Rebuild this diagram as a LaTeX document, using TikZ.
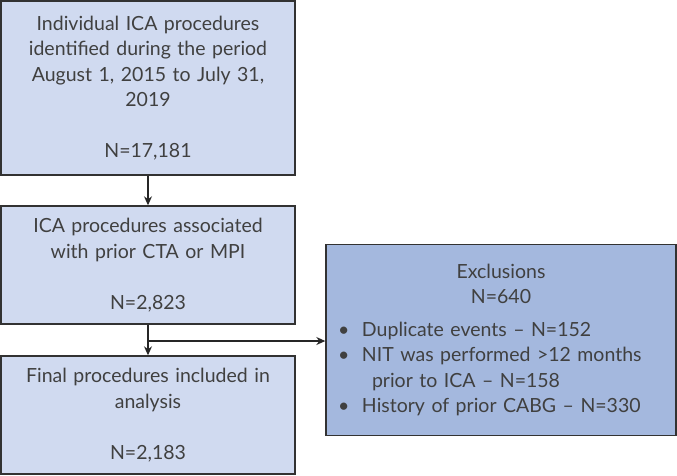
\documentclass[tikz,border=0pt]{standalone}
\usepackage{fontspec}
\setmainfont{Lato}
\usetikzlibrary{arrows.meta}
\definecolor{boxlight}{RGB}{208,218,240}
\definecolor{boxdark}{RGB}{164,184,222}
\definecolor{edge}{RGB}{50,50,50}
\begin{document}
\begin{tikzpicture}[x=1pt,y=1pt,
  font=\fontsize{19.5}{25.5}\selectfont,
  flowbox/.style={draw=edge, line width=1.4pt, fill=boxlight, text=black!75, align=center,
    minimum width=294pt, text width=285pt, inner sep=0pt},
  exbox/.style={draw=edge, line width=1.4pt, fill=boxdark, text=black!75,
    minimum width=350pt, minimum height=191pt, text width=326pt, inner sep=0pt},
  conn/.style={draw=black!85, line width=1.2pt, -{Stealth[length=9pt,width=8pt]}}]
\useasboundingbox (0,0) rectangle (677,-475);
\node[flowbox, minimum height=174pt] (b1) at (148,-88)
  {Individual ICA procedures\\identified during the period\\August 1, 2015 to July 31,\\2019\\[25.5pt]N=17,181};
\node[flowbox, minimum height=118pt] (b2) at (148,-265)
  {ICA procedures associated\\with prior CTA or MPI\\[25.5pt]N=2,823};
\node[flowbox, minimum height=118pt] (b3) at (148,-415)
  {Final procedures included in\\analysis\\[25.5pt]N=2,183};
\node[exbox] (ex) at (501,-340)
  {\centering Exclusions\\N=640\par\vspace{7pt}\raggedright
   \makebox[24pt][l]{\textbullet}Duplicate events -- N=152\\
   \makebox[24pt][l]{\textbullet}NIT was performed >12 months\\
   \hspace*{34pt}prior to ICA -- N=158\\
   \makebox[24pt][l]{\textbullet}History of prior CABG -- N=330\par};
\coordinate (split) at (148,-341);
\draw[conn] (b1.south) -- (b2.north);
\draw[conn] (b2.south) -- (b3.north);
\draw[conn] (split) -- (split -| ex.west);
\end{tikzpicture}
\end{document}
